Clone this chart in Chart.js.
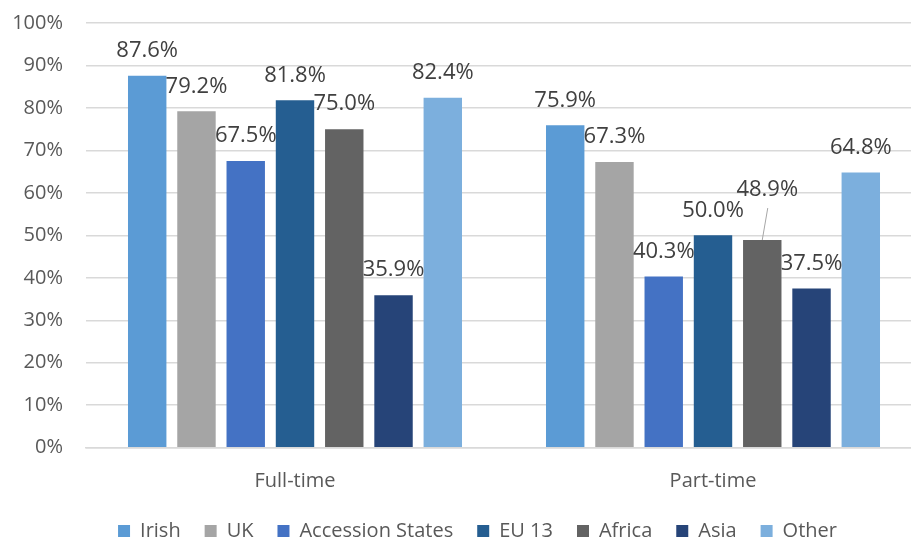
<!DOCTYPE html>
<html>
<head>
<meta charset="utf-8">
<script src="https://cdn.jsdelivr.net/npm/chart.js@4.4.1/dist/chart.umd.min.js"></script>
<style>
  html, body { margin: 0; padding: 0; background: #fff; overflow: hidden; }
  #wrap { position: relative; width: 960px; height: 580px; }
</style>
</head>
<body>
<div id="wrap"><canvas id="chart"></canvas></div>
<script>
// Study mode groups
const categories = ['Full-time', 'Part-time'];

// Share per nationality group, in percent
const irish      = [87.6, 75.9];
const uk         = [79.2, 67.3];
const accession  = [67.5, 40.3];
const eu13       = [81.8, 50.0];
const africa     = [75.0, 48.9];
const asia       = [35.9, 37.5];
const other      = [82.4, 64.8];

const seriesNames = ['Irish', 'UK', 'Accession States', 'EU 13', 'Africa', 'Asia', 'Other'];
const seriesValues = [irish, uk, accession, eu13, africa, asia, other];
const seriesColors = ['#5B9BD5', '#A5A5A5', '#4472C4', '#255E91', '#636363', '#264478', '#7CAFDD'];

// Y axis tick values
const yTicks = [0, 10, 20, 30, 40, 50, 60, 70, 80, 90, 100];

const FONT = "'Open Sans', 'DejaVu Sans', sans-serif";
const TEXT = '#595959';
const LABEL = '#404040';
const GRID = '#D9D9D9';

// Labels that are pulled away from their bar and joined to it with a leader line
const calloutLabels = { '4:1': { dx: 5, dy: -25 } };

const valueLabels = {
  id: 'valueLabels',
  afterDatasetsDraw(chart) {
    const ctx = chart.ctx;
    ctx.save();
    ctx.font = '22px ' + FONT;
    ctx.fillStyle = LABEL;
    ctx.textAlign = 'center';
    ctx.textBaseline = 'middle';
    chart.data.datasets.forEach((ds, di) => {
      const meta = chart.getDatasetMeta(di);
      meta.data.forEach((bar, i) => {
        const v = ds.data[i];
        let x = bar.x, y = bar.y - 25;
        const c = calloutLabels[di + ':' + i];
        if (c) {
          x += c.dx; y += c.dy;
          ctx.save();
          ctx.strokeStyle = '#A6A6A6';
          ctx.lineWidth = 1;
          ctx.beginPath();
          ctx.moveTo(x + 0.5, y + 18);
          ctx.lineTo(bar.x, bar.y);
          ctx.stroke();
          ctx.restore();
        }
        ctx.fillText(v.toFixed(1) + '%', x, y);
      });
    });
    ctx.restore();
  }
};

// Keep tick-label overhang from pushing the plot area around
function noScalePadding(s) {
  s.paddingTop = 0;
  s.paddingBottom = 0;
}

new Chart(document.getElementById('chart'), {
  type: 'bar',
  data: {
    labels: categories,
    datasets: seriesNames.map((name, k) => ({
      label: name,
      data: seriesValues[k],
      backgroundColor: seriesColors[k],
      borderWidth: 0,
      categoryPercentage: 0.825,
      barPercentage: 0.78
    }))
  },
  options: {
    responsive: true,
    maintainAspectRatio: false,
    animation: false,
    layout: { padding: { top: 23, right: 5, bottom: 29, left: 0 } },
    plugins: {
      tooltip: { enabled: false },
      legend: {
        position: 'bottom',
        labels: {
          boxWidth: 12,
          boxHeight: 12,
          padding: 24,
          color: TEXT,
          font: { family: FONT, size: 20 }
        }
      }
    },
    scales: {
      x: {
        grid: { display: false, drawTicks: false },
        border: { display: true, color: GRID, width: 1.5 },
        ticks: { color: TEXT, font: { family: FONT, size: 20 }, padding: 22 },
        afterFit(s) { s.height = 49.3; }
      },
      y: {
        min: 0,
        max: 100,
        afterBuildTicks(s) { s.ticks = yTicks.map(v => ({ value: v })); },
        grid: { color: GRID, lineWidth: 1.5, drawTicks: false },
        border: { display: false },
        ticks: {
          color: TEXT,
          font: { family: FONT, size: 20 },
          padding: 23,
          callback: v => v + '%'
        },
        afterFit(s) { s.width = 86; noScalePadding(s); }
      },
      // empty right-hand gutter past the plot edge
      gutter: {
        type: 'linear',
        position: 'right',
        display: true,
        grid: { display: false, drawTicks: false },
        border: { display: false },
        ticks: { display: false },
        afterFit(s) { s.width = 33; noScalePadding(s); }
      }
    }
  },
  plugins: [valueLabels]
});
</script>
</body>
</html>
